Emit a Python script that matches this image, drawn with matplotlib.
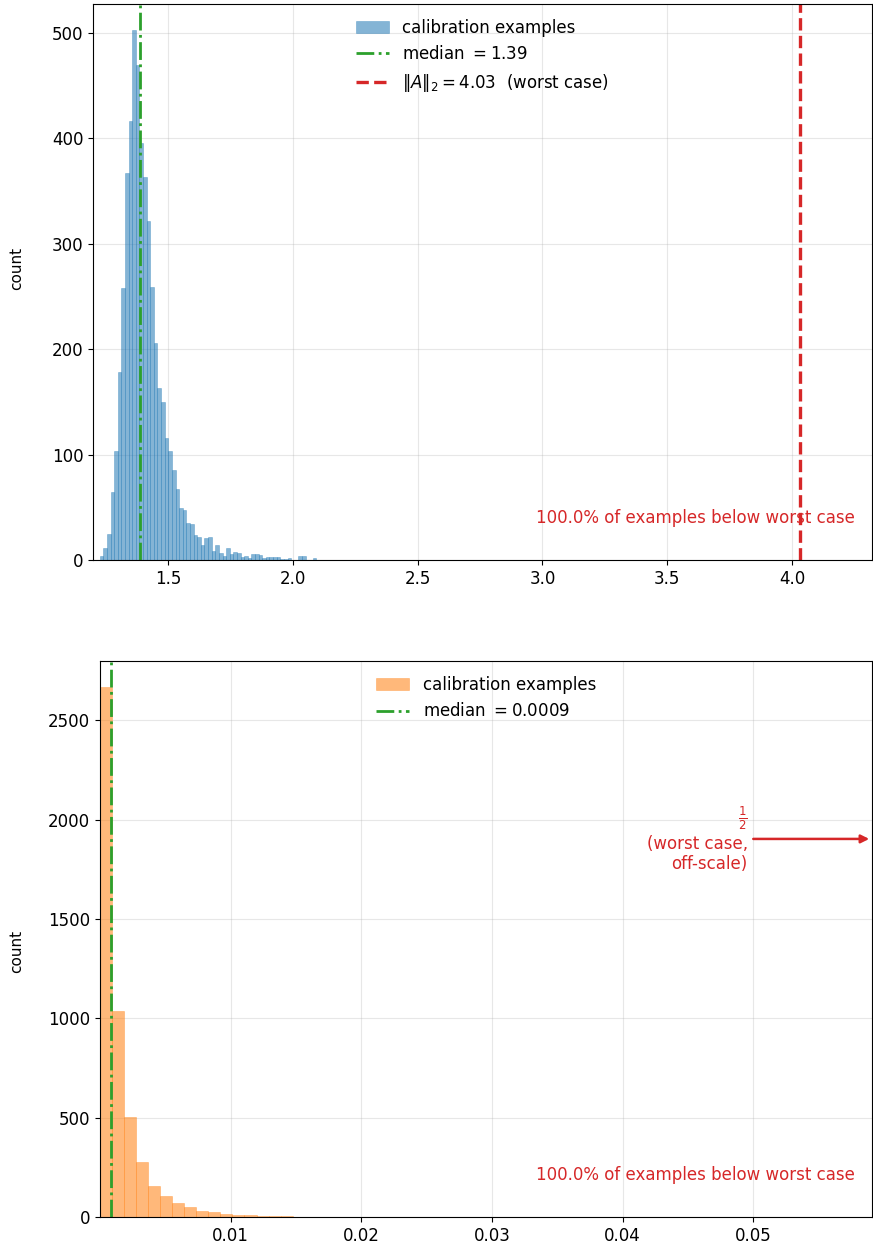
import numpy as np
import matplotlib
matplotlib.use("Agg")
import matplotlib.pyplot as plt

# top panel: ||A||_2 per calibration example
spec_lo, spec_hi = 1.2268, 2.0948
spec_counts = [4, 11, 25, 64, 103, 178, 258, 367, 416, 502,
               469, 395, 363, 321, 259, 206, 163, 150, 116, 103,
               85, 67, 49, 47, 35, 34, 24, 22, 14, 21,
               22, 9, 14, 7, 4, 11, 6, 8, 7, 3,
               4, 2, 6, 6, 5, 2, 3, 3, 3, 3,
               1, 1, 2, 0, 0, 4, 4, 0, 0, 2]
spec_median = 1.389
spec_worst = 4.03

# bottom panel: orthogonality error per calibration example
orth_lo, orth_hi = 0.0, 0.0553
orth_counts = [2666, 1038, 502, 277, 156, 106, 72, 50, 30, 25,
               15, 10, 10, 5, 3, 5, 2, 2, 2, 1,
               1, 1, 1, 1, 1, 0, 1, 0, 0, 1,
               0, 0, 0, 0, 0, 0, 0, 0, 0, 0,
               0, 0, 0, 0, 0, 0, 0, 0, 0, 0,
               0, 0, 0, 0, 0, 0, 0, 0, 0, 1]
orth_median = 0.00086
orth_worst_label = r"$\frac{1}{2}$"

frac_below = 100.0

RED = "tab:red"
GREEN = "tab:green"
FS = 12

fig = plt.figure(figsize=(8.73, 12.49), dpi=100)
ax1 = fig.add_axes([93/873, 1 - 560/1249, 779/873, 556/1249])
ax2 = fig.add_axes([100/873, 1 - 1217/1249, 772/873, 556/1249])

# --- top ---
edges = np.linspace(spec_lo, spec_hi, len(spec_counts) + 1)
ax1.hist(edges[:-1], bins=edges, weights=spec_counts, color="tab:blue",
         alpha=0.55, edgecolor="tab:blue", linewidth=0.4,
         label="calibration examples")
ax1.axvline(spec_median, color=GREEN, ls="-.", lw=2,
            label=r"median $= %.2f$" % spec_median)
ax1.axvline(spec_worst, color=RED, ls="--", lw=2.4,
            label=r"$\|A\|_2 = %.2f$  (worst case)" % spec_worst)
ax1.set_xlim(1.2, 4.32)
ax1.set_ylim(0, max(spec_counts) * 1.05)
ax1.set_ylabel("count", fontsize=11)
ax1.yaxis.set_label_coords(-0.088, 0.525)
ax1.text(0.978, 0.075, "%.1f%% of examples below worst case" % frac_below,
         color=RED, fontsize=FS, ha="right", va="center",
         transform=ax1.transAxes)
ax1.legend(loc="upper center", frameon=False, fontsize=FS)

# --- bottom ---
edges2 = np.linspace(orth_lo, orth_hi, len(orth_counts) + 1)
ax2.hist(edges2[:-1], bins=edges2, weights=orth_counts, color="tab:orange",
         alpha=0.55, edgecolor="tab:orange", linewidth=0.4,
         label="calibration examples")
ax2.axvline(orth_median, color=GREEN, ls="-.", lw=2,
            label=r"median $= %.4f$" % orth_median)
ax2.set_xlim(0, 0.0591)
ax2.set_ylim(0, max(orth_counts) * 1.05)
ax2.set_xticks([0.01, 0.02, 0.03, 0.04, 0.05])
ax2.set_ylabel("count", fontsize=11)
ax2.yaxis.set_label_coords(-0.098, 0.477)
ax2.text(0.978, 0.075, "%.1f%% of examples below worst case" % frac_below,
         color=RED, fontsize=FS, ha="right", va="center",
         transform=ax2.transAxes)
ax2.annotate(orth_worst_label + "\n(worst case,\noff-scale)",
             xy=(1.0, 0.68), xycoords="axes fraction",
             xytext=(0.839, 0.68), textcoords="axes fraction",
             ha="right", va="center", multialignment="right",
             color=RED, fontsize=FS,
             arrowprops=dict(arrowstyle="-|>", color=RED, lw=1.8))
ax2.legend(loc="upper center", frameon=False, fontsize=FS)

for ax in (ax1, ax2):
    ax.grid(True, alpha=0.3)
    ax.set_axisbelow(True)
    ax.tick_params(labelsize=12)

fig.savefig("out.png", dpi=100)
